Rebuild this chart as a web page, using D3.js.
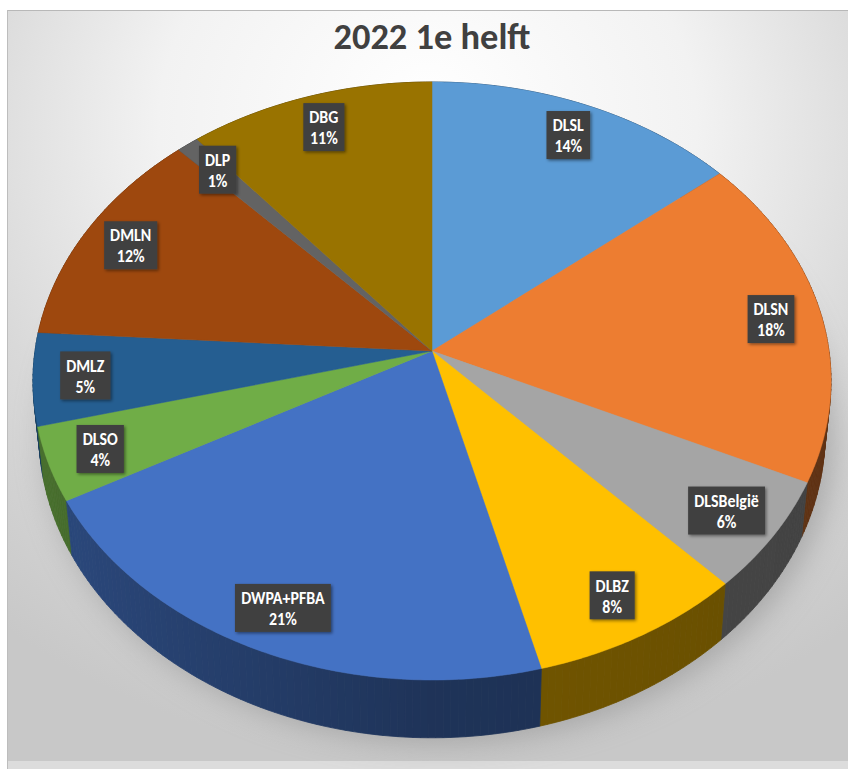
<!DOCTYPE html>
<html><head><meta charset="utf-8">
<script src="https://cdn.jsdelivr.net/npm/d3@7"></script>
<style>html,body{margin:0;padding:0;background:#fff;} svg{display:block}</style>
</head><body>
<svg id="chart" width="848" height="769"></svg>
<script>
const categories = ["DLSL","DLSN","DLSBelgië","DLBZ","DWPA+PFBA","DLSO","DMLZ","DMLN","DLP","DBG"];
const values = [14,18,6,8,21,4,5,12,1,11];
const colors = ["#5b9bd5","#ed7d31","#a5a5a5","#ffc000","#4472c4","#70ad47","#255e91","#9e480e","#636363","#997300"];
const title = "2022 1e helft";

const W = 848, H = 769;
const svg = d3.select("#chart");
const defs = svg.append("defs");

// background gradient
const rg = defs.append("radialGradient").attr("id","bg").attr("cx","50%").attr("cy","20%").attr("r","80%")
  .attr("fx","50%").attr("fy","12%");
rg.append("stop").attr("offset","0%").attr("stop-color","#ffffff");
rg.append("stop").attr("offset","40%").attr("stop-color","#f2f2f2");
rg.append("stop").attr("offset","70%").attr("stop-color","#d9d9d9");
rg.append("stop").attr("offset","100%").attr("stop-color","#c8c8c8");

const blur = defs.append("filter").attr("id","blur").attr("x","-30%").attr("y","-30%").attr("width","160%").attr("height","160%");
blur.append("feGaussianBlur").attr("stdDeviation",16);

const ds = defs.append("filter").attr("id","ds").attr("x","-20%").attr("y","-20%").attr("width","150%").attr("height","150%");
ds.append("feDropShadow").attr("dx",1.5).attr("dy",1.5).attr("stdDeviation",1.5).attr("flood-color","#000").attr("flood-opacity",0.45);

svg.append("rect").attr("x",0).attr("y",0).attr("width",W).attr("height",H).attr("fill","#ffffff");
svg.append("rect").attr("x",7).attr("y",10).attr("width",W-7).attr("height",751).attr("fill","url(#bg)");
svg.append("rect").attr("x",7).attr("y",761).attr("width",W-7).attr("height",8).attr("fill","#dcdcdc");
svg.append("line").attr("x1",7).attr("x2",W).attr("y1",10.5).attr("y2",10.5).attr("stroke","#b8b8b8").attr("stroke-width",1);
svg.append("line").attr("x1",7.5).attr("x2",7.5).attr("y1",10).attr("y2",H).attr("stroke","#bdbdbd").attr("stroke-width",1);

// perspective projection of the pie plane
const cx = 432, cy = 351, A = 397, B = 296, k = 0.1003, T = 52, taper = 0.985;
function proj(theta, f = 1) {
  const u = f * Math.sin(theta), v = -f * Math.cos(theta);
  const d = 1 - k * v;
  return [cx + A * u / d, cy + B * v / d];
}
function projBottom(theta) {
  const v = -Math.cos(theta);
  const [x, y] = proj(theta);
  return [cx + (x - cx) * taper, y + T / (1 - k * v)];
}

const arcs = d3.pie().sort(null).value(d => d)(values);
const line = d3.line();

// shadow beneath
const shadowPts = d3.range(0, 361, 2).map(a => {
  const [x, y] = projBottom(a * Math.PI / 180);
  return [x + 8, y + 4];
});
svg.append("path").attr("d", line(shadowPts) + "Z").attr("fill","#7a7a7a").attr("opacity",0.5).attr("filter","url(#blur)");

// side walls
const segs = [];
arcs.forEach((p, i) => {
  const n = Math.max(2, Math.ceil((p.endAngle - p.startAngle) / (Math.PI / 180)));
  for (let j = 0; j < n; j++) {
    const a0 = p.startAngle + (p.endAngle - p.startAngle) * j / n;
    const a1 = p.startAngle + (p.endAngle - p.startAngle) * (j + 1) / n;
    const am = (a0 + a1) / 2;
    segs.push({ i, a0, a1, v: -Math.cos(am), u: Math.sin(am) });
  }
});
segs.sort((a, b) => a.v - b.v);
const gWalls = svg.append("g");
segs.forEach(s => {
  const f = s.u < 0 ? 0.45 + 0.2 * (-s.u) : 0.45 - 0.05 * s.u;
  const c = d3.rgb(colors[s.i]);
  const col = d3.rgb(c.r * f, c.g * f, c.b * f).formatHex();
  const pts = [proj(s.a0), proj(s.a1), projBottom(s.a1), projBottom(s.a0)];
  gWalls.append("path").attr("d", line(pts) + "Z").attr("fill", col).attr("stroke", col).attr("stroke-width", 0.8);
});

// top faces
const gTop = svg.append("g");
arcs.forEach((p, i) => {
  const n = Math.max(2, Math.ceil((p.endAngle - p.startAngle) / (Math.PI / 360)));
  const pts = [[cx, cy]];
  for (let j = 0; j <= n; j++) pts.push(proj(p.startAngle + (p.endAngle - p.startAngle) * j / n));
  gTop.append("path").attr("d", line(pts) + "Z").attr("fill", colors[i]).attr("stroke", colors[i]).attr("stroke-width", 0.5);
});

// title (condensed horizontally to mimic Calibri)
const tg = svg.append("g").attr("transform","translate(432,49)");
const tt = tg.append("text").attr("x", 0).attr("y", 0).attr("text-anchor","middle")
  .attr("font-family","Carlito, Lato, 'Open Sans', sans-serif").attr("font-weight","bold")
  .attr("font-size", 37).attr("fill","#404040").text(title);
const tw = tt.node().getComputedTextLength();
tg.attr("transform", `translate(432,49) scale(${197 / tw},1)`);

// labels
const gLab = svg.append("g");
const fs = 18.5, lh = 21, pad = 6, sx = 0.86;
const total = d3.sum(values);
arcs.forEach((p, i) => {
  const [lx, ly] = proj((p.startAngle + p.endAngle) / 2, 0.87);
  const lines = [categories[i], Math.round(values[i] / total * 100) + "%"];
  const g = gLab.append("g").attr("transform", `translate(${lx},${ly})`);
  const rect = g.append("rect").attr("fill","#404040").attr("filter","url(#ds)");
  const txt = g.append("text").attr("text-anchor","middle").attr("transform", `scale(${sx},1)`)
    .attr("font-family","Carlito, Lato, 'Open Sans', sans-serif").attr("font-weight","bold")
    .attr("font-size", fs).attr("fill","#ffffff");
  lines.forEach((l, j) => txt.append("tspan").attr("x", 0).attr("y", (j - 0.5) * lh + fs * 0.36).text(l));
  const bw = txt.node().getBBox().width * sx + 2 * pad;
  const bh = 2 * lh + 6;
  rect.attr("x", -bw / 2).attr("y", -bh / 2).attr("width", bw).attr("height", bh);
});
</script>
</body></html>
